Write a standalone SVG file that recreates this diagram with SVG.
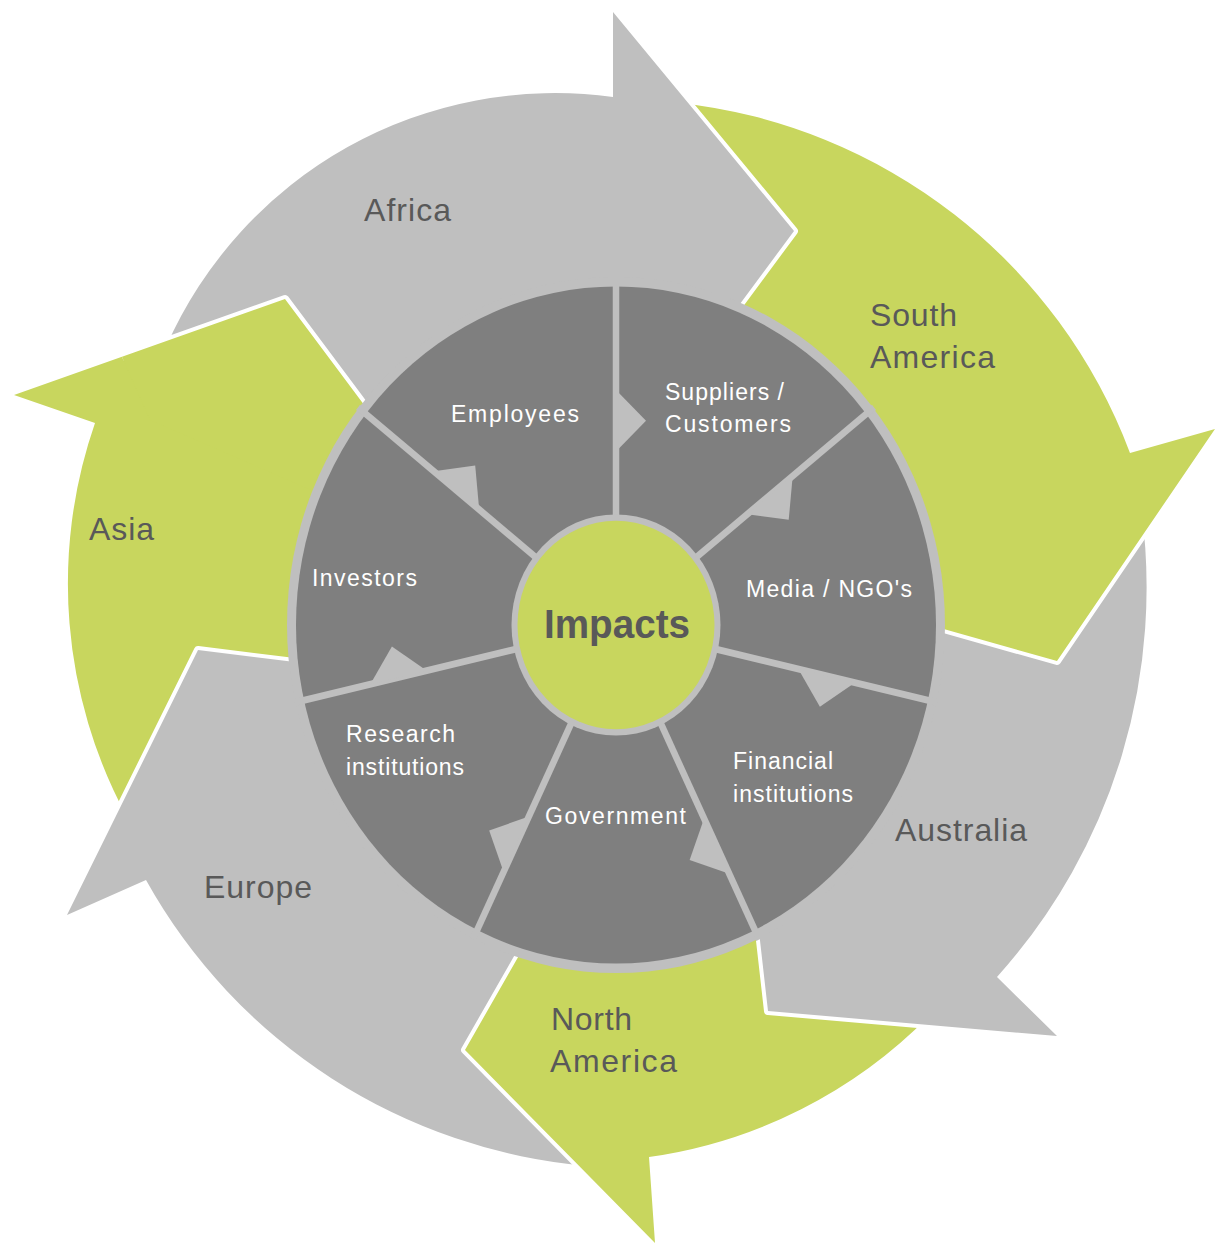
<svg xmlns="http://www.w3.org/2000/svg" width="1226" height="1256" viewBox="0 0 1226 1256">
<defs>
<style>
.gray{fill:#BFBFBF;stroke:#FFFFFF;stroke-width:8;stroke-linejoin:round;paint-order:stroke}
.green{fill:#C8D65E;stroke:#FFFFFF;stroke-width:8;stroke-linejoin:round;paint-order:stroke}
.region{font-family:"Liberation Sans",Arial,sans-serif;font-size:32px;fill:#595959}
.seg{font-family:"Liberation Sans",Arial,sans-serif;font-size:23px;fill:#FFFFFF}
.spoke{stroke:#BFBFBF;stroke-width:6.5;fill:none}
.notch{fill:#BFBFBF}
.impact{font-family:"Liberation Sans",Arial,sans-serif;font-size:41px;font-weight:bold;fill:#595959}
</style>
<path id="asiaShape" d="M 330,700 L 127,817 A 490 490 0 0 1 95,423 L 14,395 L 285,299 L 400,453 Z"/>
<clipPath id="asiaHeadClip"><polygon points="110,330 285,266 312,278 440,470 380,520 150,420"/></clipPath>
</defs>
<rect width="1226" height="1256" fill="#FFFFFF"/>

<g id="arrows">
<g id="asia"><use href="#asiaShape" class="green"/></g>
<g id="europe"><path class="gray" d="M 580,930 L 589,1166 A 560 560 0 0 1 146,880 L 67,915 L 198,650 L 360,670 Z"/></g>
<g id="north-america"><path class="green" d="M 790,880 L 930,1015 A 489 489 0 0 1 649,1157 L 655,1243 L 465,1050 L 545,910 Z"/></g>
<g id="australia"><path class="gray" d="M 900,560 L 1140,500 A 582 582 0 0 1 997,977 L 1057,1036 L 768,1011 L 752,870 Z"/></g>
<g id="south-america"><path class="green" d="M 680,330 L 680,103 A 545 545 0 0 1 1130,453 L 1215,429 L 1057,661 L 880,611 Z"/></g>
<g id="africa"><path class="gray" d="M 360,470 L 166,347 A 425 425 0 0 1 613,97 L 613,12 L 794,231 L 700,358 Z"/></g>
<g id="asia-head"><use href="#asiaShape" class="green" clip-path="url(#asiaHeadClip)"/></g>
</g>

<g id="wheel" transform="translate(616,625) scale(1,1.058)">
<circle r="329" fill="#BFBFBF"/>
<circle r="320" fill="#7F7F7F"/>
<g id="connectors">
<line class="spoke" x1="0" y1="-95" x2="0" y2="-330"/>
<line class="spoke" x1="74.27" y1="-59.23" x2="258.00" y2="-205.75"/>
<line class="spoke" x1="92.62" y1="21.14" x2="321.73" y2="73.43"/>
<line class="spoke" x1="41.22" y1="85.59" x2="143.18" y2="297.32"/>
<line class="spoke" x1="-41.22" y1="85.59" x2="-143.18" y2="297.32"/>
<line class="spoke" x1="-92.62" y1="21.14" x2="-321.73" y2="73.43"/>
<line class="spoke" x1="-74.27" y1="-59.23" x2="-258.00" y2="-205.75"/>
<polygon class="notch" points="0,-164 30,-193 0,-222"/>
<polygon class="notch" points="131.35,-104.75 172.72,-99.38 176.69,-140.91"/>
<polygon class="notch" points="182.31,41.61 203.90,77.31 238.86,54.52"/>
<polygon class="notch" points="88.08,182.90 73.63,222.05 113.24,235.15"/>
<polygon class="notch" points="-87.21,181.09 -126.82,194.20 -112.38,233.35"/>
<polygon class="notch" points="-189.14,43.17 -224.09,20.37 -245.68,56.08"/>
<polygon class="notch" points="-136.82,-109.11 -140.79,-150.64 -182.17,-145.27"/>
</g>
<g id="impacts-circle">
<circle r="104.5" fill="#BFBFBF"/>
<circle r="98.5" fill="#C8D65E"/>
</g>
</g>

<g id="impacts"><text class="impact" x="544" y="638" textLength="146" lengthAdjust="spacingAndGlyphs">Impacts</text></g>

<g id="employees"><text class="seg" x="451" y="422" textLength="128" lengthAdjust="spacing">Employees</text></g>
<g id="suppliers-customers"><text class="seg" x="665" y="400" textLength="119" lengthAdjust="spacing">Suppliers /</text><text class="seg" x="665" y="432" textLength="126" lengthAdjust="spacing">Customers</text></g>
<g id="media-ngos"><text class="seg" x="746" y="597" textLength="166" lengthAdjust="spacing">Media / NGO's</text></g>
<g id="financial-institutions"><text class="seg" x="733" y="769" textLength="100" lengthAdjust="spacing">Financial</text><text class="seg" x="733" y="802" textLength="120" lengthAdjust="spacing">institutions</text></g>
<g id="government"><text class="seg" x="545" y="824" textLength="141" lengthAdjust="spacing">Government</text></g>
<g id="research-institutions"><text class="seg" x="346" y="742" textLength="109" lengthAdjust="spacing">Research</text><text class="seg" x="346" y="775" textLength="118" lengthAdjust="spacing">institutions</text></g>
<g id="investors"><text class="seg" x="312" y="586" textLength="105" lengthAdjust="spacing">Investors</text></g>

<g id="region-labels">
<text class="region" x="364" y="221" textLength="87" lengthAdjust="spacing">Africa</text>
<text class="region" x="870" y="326" textLength="87" lengthAdjust="spacing">South</text>
<text class="region" x="870" y="368" textLength="125" lengthAdjust="spacing">America</text>
<text class="region" x="895" y="841" textLength="132" lengthAdjust="spacing">Australia</text>
<text class="region" x="551" y="1030" textLength="81" lengthAdjust="spacing">North</text>
<text class="region" x="550" y="1072" textLength="127" lengthAdjust="spacing">America</text>
<text class="region" x="204" y="898" textLength="108" lengthAdjust="spacing">Europe</text>
<text class="region" x="89" y="540" textLength="65" lengthAdjust="spacing">Asia</text>
</g>
</svg>
